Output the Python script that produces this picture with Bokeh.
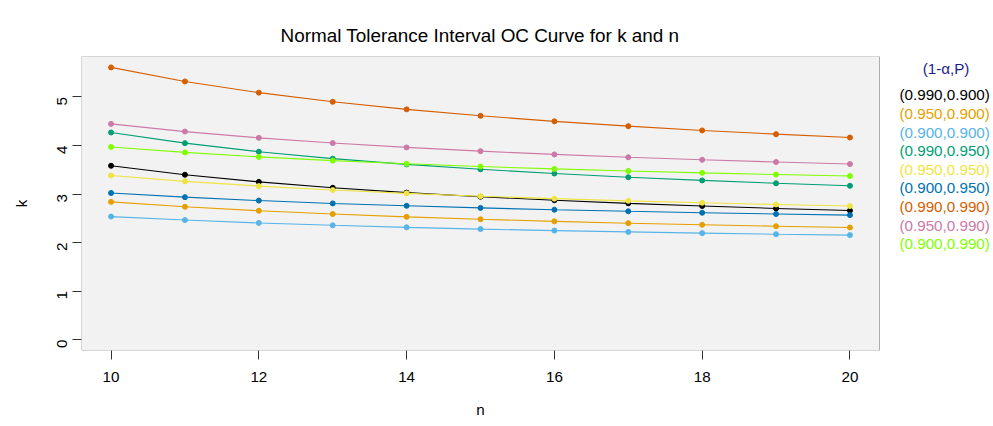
from bokeh.plotting import figure
from bokeh.models import Range1d, FixedTicker, BoxAnnotation, ColumnDataSource, Title
from bokeh.core.properties import value
from bokeh.embed import file_html
from bokeh.resources import INLINE
import math

n_values = [10, 11, 12, 13, 14, 15, 16, 17, 18, 19, 20]

k_990_900 = [3.582, 3.397, 3.250, 3.129, 3.029, 2.945, 2.872, 2.808, 2.753, 2.703, 2.659]
k_950_900 = [2.838, 2.737, 2.655, 2.587, 2.529, 2.480, 2.437, 2.399, 2.366, 2.337, 2.310]
k_900_900 = [2.535, 2.463, 2.404, 2.355, 2.313, 2.277, 2.246, 2.219, 2.194, 2.172, 2.153]
k_990_950 = [4.268, 4.048, 3.872, 3.729, 3.610, 3.509, 3.422, 3.346, 3.280, 3.221, 3.169]
k_950_950 = [3.382, 3.261, 3.163, 3.082, 3.014, 2.955, 2.904, 2.859, 2.819, 2.784, 2.752]
k_900_950 = [3.021, 2.935, 2.865, 2.806, 2.757, 2.714, 2.676, 2.644, 2.614, 2.588, 2.565]
k_990_990 = [5.609, 5.319, 5.089, 4.900, 4.744, 4.611, 4.497, 4.398, 4.310, 4.233, 4.164]
k_950_990 = [4.445, 4.286, 4.157, 4.050, 3.960, 3.883, 3.816, 3.757, 3.705, 3.659, 3.617]
k_900_990 = [3.970, 3.857, 3.765, 3.688, 3.623, 3.566, 3.517, 3.474, 3.436, 3.402, 3.371]

series_labels = ["(0.990,0.900)", "(0.950,0.900)", "(0.900,0.900)",
                 "(0.990,0.950)", "(0.950,0.950)", "(0.900,0.950)",
                 "(0.990,0.990)", "(0.950,0.990)", "(0.900,0.990)"]
series_values = [k_990_900, k_950_900, k_900_900,
                 k_990_950, k_950_950, k_900_950,
                 k_990_990, k_950_990, k_900_990]
series_colors = ["#000000", "#E69F00", "#56B4E9",
                 "#009E73", "#F0E442", "#0072B2",
                 "#D55E00", "#CC79A7", "#7FFF00"]
legend_title = "(1-\u03b1,P)"

x_ticks = [10, 12, 14, 16, 18, 20]
y_ticks = [0, 1, 2, 3, 4, 5]

FONT = "Liberation Sans"
BASE = "15.2px"

# plot box (data region) and its pixel geometry
X0, X1 = 9.6, 20.4
Y0, Y1 = -0.2244, 5.8334
BOX_L, BOX_R, BOX_T, BOX_B = 81, 879, 56, 350
xppu = (BOX_R - BOX_L) / (X1 - X0)
yppu = (BOX_B - BOX_T) / (Y1 - Y0)
W = 993
frame_w = W - BOX_L

p = figure(width=W, height=426, frame_width=frame_w, frame_height=BOX_B - BOX_T,
           min_border_left=BOX_L, min_border_top=BOX_T, min_border_right=0,
           min_border_bottom=76,
           x_range=Range1d(X0, X0 + frame_w / xppu), y_range=Range1d(Y0, Y1),
           output_backend="svg", toolbar_location=None,
           background_fill_color="white", border_fill_color="white")

p.outline_line_color = None
p.xgrid.grid_line_color = None
p.ygrid.grid_line_color = None

p.add_layout(BoxAnnotation(left=X0, right=X1, bottom=Y0, top=Y1,
                           fill_color="#F2F2F2", fill_alpha=1.0,
                           line_color="black", line_width=1, level="underlay"))

p.title.text = "Normal Tolerance Interval OC Curve for k and n"
p.title.align = "left"
p.title.text_font = FONT
p.title.text_font_size = "18.9px"
p.title.text_font_style = "normal"
p.title.text_color = "black"
p.title.offset = 199
p.title.standoff = 21

for ax in (p.xaxis[0], p.yaxis[0]):
    ax.axis_line_color = None
    ax.major_tick_in = 0
    ax.major_tick_out = 9
    ax.major_tick_line_color = "#333333"
    ax.minor_tick_line_color = None
    ax.major_label_text_font = FONT
    ax.major_label_text_font_size = BASE
    ax.major_label_text_color = "black"
    ax.axis_label_text_font = FONT
    ax.axis_label_text_font_size = BASE
    ax.axis_label_text_font_style = "normal"
    ax.axis_label_text_color = "black"

p.xaxis.ticker = FixedTicker(ticks=x_ticks)
p.yaxis.ticker = FixedTicker(ticks=y_ticks)
p.yaxis.axis_label = "k"
p.xaxis.major_label_standoff = 12
p.yaxis.major_label_orientation = math.pi / 2
p.yaxis.major_label_standoff = 10
p.yaxis.axis_label_standoff = 20

# x axis title "n", centred under the plot box (not under the wider frame)
n_title = Title(text="n", align="left", offset=(BOX_L + BOX_R) / 2 - BOX_L - 4.3,
                text_font=FONT, text_font_size=BASE, text_font_style="normal",
                text_color="black", standoff=28)
p.add_layout(n_title, "below")

for vals, col in zip(series_values, series_colors):
    p.line(n_values, vals, line_color=col, line_width=1.1)
    p.scatter(n_values, vals, size=5, fill_color=col, line_color=col)

# legend: text only, to the right of the plot box
def x_at(px):
    return X0 + (px - BOX_L) / xppu

def y_at(py):
    return Y1 - (py - BOX_T) / yppu

leg = ColumnDataSource(dict(
    x=[x_at(899)] * len(series_labels),
    y=[y_at(94.3 + i * 18.63) for i in range(len(series_labels))],
    text=series_labels, color=series_colors))
p.text(x="x", y="y", text="text", text_color="color", source=leg,
       text_font=value(FONT), text_font_size=value(BASE),
       text_align="left", text_baseline="middle")
p.text(x=[x_at(945.5)], y=[y_at(68)], text=[legend_title],
       text_color="#1C1C8E", text_font=value(FONT), text_font_size=value(BASE),
       text_align="center", text_baseline="middle")

open("out.html", "w").write(file_html(p, INLINE))
